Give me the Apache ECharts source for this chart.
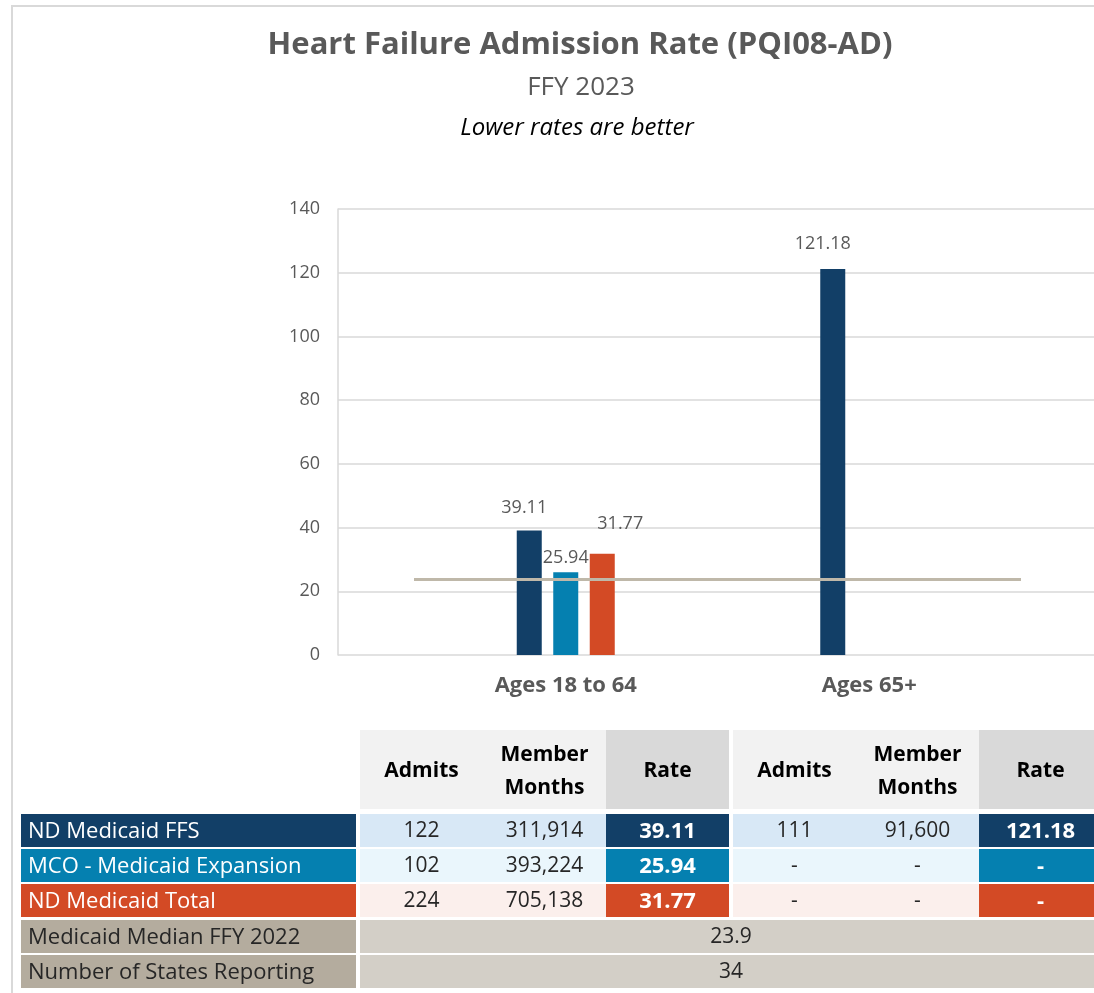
<!DOCTYPE html>
<html>
<head>
<meta charset="utf-8">
<script src="https://cdn.jsdelivr.net/npm/echarts@6/dist/echarts.min.js"></script>
<style>
  html, body { margin: 0; padding: 0; background: #fff; }
  #chart { width: 1094px; height: 993px; }
</style>
</head>
<body>
<div id="chart"></div>
<script>
// chart values
var ageGroups = ['Ages 18 to 64', 'Ages 65+'];
var ffsRate = [39.11, 121.18];
var mcoRate = [25.94, null];
var totalRate = [31.77, null];
var medianRate = 23.9;
var statesReporting = 34;
var yTicks = [0, 20, 40, 60, 80, 100, 120, 140];

// table values
var rowNames = ['ND Medicaid FFS', 'MCO - Medicaid Expansion', 'ND Medicaid Total'];
var admits1864 = [122, 102, 224];
var months1864 = [311914, 393224, 705138];
var admits65 = [111, null, null];
var months65 = [91600, null, null];

var navy = '#123f67', teal = '#0580b0', orange = '#d34a25', tan = '#b4ac9e';
var font = '"Open Sans", "Noto Sans", sans-serif';

var myChart = echarts.init(document.getElementById('chart'));

// label nudges so data labels sit where the original put them
var nudge = {
    ffs: [[-5, -9], [-10, -11]],
    mco: [[0, 0], [0, 0]],
    total: [[18, -16], [0, 0]]
};
function barData(vals, key) {
    return vals.map(function (v, i) {
        return { value: v, label: { offset: nudge[key][i] } };
    });
}

// ---- table drawn with graphic elements ----
function fmt(v) { return v == null ? '-' : v.toLocaleString('en-US'); }
function fmtRate(v) { return v == null ? '-' : v.toFixed(2); }

var g = [];
function rect(x, y, w, h, fill) {
    g.push({ type: 'rect', shape: { x: x, y: y, width: w, height: h }, style: { fill: fill }, silent: true });
}
function text(x, y, str, opt) {
    opt = opt || {};
    g.push({
        type: 'text', x: x, y: y, silent: true,
        style: {
            text: str, fontFamily: font, fontSize: opt.size || 21,
            fontWeight: opt.bold ? 'bold' : 'normal',
            fill: opt.color || '#262626', align: opt.align || 'center',
            verticalAlign: 'middle', lineHeight: opt.lh || 26
        }
    });
}

// frame
g.push({ type: 'line', shape: { x1: 11, y1: 6, x2: 1094, y2: 6 }, style: { stroke: '#d9d9d9', lineWidth: 2 }, silent: true });
g.push({ type: 'line', shape: { x1: 12, y1: 6, x2: 12, y2: 993 }, style: { stroke: '#d9d9d9', lineWidth: 2 }, silent: true });

var groups = [360, 733];
var colW = 123;
var headTop = 730, headH = 79;
groups.forEach(function (gx) {
    rect(gx, headTop, colW * 2, headH, '#f2f2f2');
    rect(gx + colW * 2, headTop, colW, headH, '#d9d9d9');
    text(gx + colW / 2, headTop + headH / 2 + 2, 'Admits', { bold: true, size: 21, color: '#000' });
    text(gx + colW * 1.5, headTop + headH / 2 + 2, 'Member\nMonths', { bold: true, size: 21, color: '#000', lh: 33 });
    text(gx + colW * 2.5, headTop + headH / 2 + 2, 'Rate', { bold: true, size: 21, color: '#000' });
});

var rowTops = [814, 849, 884, 920, 955];
var rowH = 33;
var rowColors = [navy, teal, orange];
var rowLight = ['#d8e8f6', '#eaf6fc', '#fbefec'];
var rates = [ffsRate, mcoRate, totalRate];
rowNames.forEach(function (name, i) {
    var y = rowTops[i], cy = y + rowH / 2 + 1;
    rect(21, y, 335, rowH, rowColors[i]);
    text(28, cy, name, { color: '#fff', align: 'left', size: 22 });
    // 18 to 64
    rect(groups[0], y, colW * 2, rowH, rowLight[i]);
    rect(groups[0] + colW * 2, y, colW, rowH, rowColors[i]);
    text(groups[0] + colW / 2, cy, fmt(admits1864[i]));
    text(groups[0] + colW * 1.5, cy, fmt(months1864[i]));
    text(groups[0] + colW * 2.5, cy, fmtRate(rates[i][0]), { bold: true, color: '#fff', size: 22 });
    // 65+
    rect(groups[1], y, colW * 2, rowH, rowLight[i]);
    rect(groups[1] + colW * 2, y, 1094 - groups[1] - colW * 2, rowH, rowColors[i]);
    text(groups[1] + colW / 2, cy, fmt(admits65[i]));
    text(groups[1] + colW * 1.5, cy, fmt(months65[i]));
    text(groups[1] + colW * 2.5, cy, fmtRate(rates[i][1]), { bold: true, color: '#fff', size: 22 });
});
[['Medicaid Median FFY 2022', medianRate], ['Number of States Reporting', statesReporting]].forEach(function (r, k) {
    var y = rowTops[3 + k], cy = y + rowH / 2 + 1;
    rect(21, y, 335, rowH, tan);
    text(28, cy, r[0], { align: 'left', size: 22 });
    rect(360, y, 1094 - 360, rowH, '#d3cfc7');
    text(731, cy, String(r[1]));
});

var barLabel = {
    show: true, position: 'top', distance: 5,
    color: '#595959', fontSize: 18, fontFamily: font
};

var option = {
    animation: false,
    textStyle: { fontFamily: font },
    title: [
        { text: 'Heart Failure Admission Rate (PQI08-AD)', left: 575, textAlign: 'center', top: 25,
          textStyle: { fontSize: 31, fontWeight: 'bold', color: '#595959', fontFamily: font } },
        { text: 'FFY 2023', left: 576, textAlign: 'center', top: 70,
          textStyle: { fontSize: 26, fontWeight: 'normal', color: '#595959', fontFamily: font } },
        { text: 'Lower rates are better', left: 572, textAlign: 'center', top: 111,
          textStyle: { fontSize: 24, fontWeight: 'normal', fontStyle: 'italic', color: '#000', fontFamily: font } }
    ],
    grid: [
        { left: 338, right: 0, top: 209, bottom: 338 },
        { left: 414, right: 73, top: 209, bottom: 338 }
    ],
    xAxis: [
        { gridIndex: 0, type: 'value', show: false },
        { gridIndex: 1, type: 'category', data: ageGroups,
          axisLine: { show: false }, axisTick: { show: false },
          axisLabel: { margin: 20, fontSize: 22, fontWeight: 'bold', color: '#595959', fontFamily: font } }
    ],
    yAxis: [
        { gridIndex: 0, type: 'value', min: yTicks[0], max: yTicks[yTicks.length - 1], interval: 20,
          axisLine: { show: true, lineStyle: { color: '#d9d9d9', width: 1.5 } },
          axisTick: { show: false },
          splitLine: { lineStyle: { color: '#d9d9d9', width: 1.5 } },
          axisLabel: { margin: 18, fontSize: 18, color: '#595959', fontFamily: font } },
        { gridIndex: 1, type: 'value', min: yTicks[0], max: yTicks[yTicks.length - 1], interval: 20, show: false }
    ],
    series: [
        { name: 'ND Medicaid FFS', type: 'bar', xAxisIndex: 1, yAxisIndex: 1,
          data: barData(ffsRate, 'ffs'), barWidth: 25, barGap: '46%',
          itemStyle: { color: navy }, label: barLabel,
          markLine: {
              silent: true, symbol: 'none', label: { show: false },
              lineStyle: { color: '#bfb8a9', width: 3, type: 'solid' },
              data: [{ yAxis: medianRate }]
          } },
        { name: 'MCO - Medicaid Expansion', type: 'bar', xAxisIndex: 1, yAxisIndex: 1,
          data: barData(mcoRate, 'mco'), barWidth: 25, barGap: '46%',
          itemStyle: { color: teal }, label: barLabel },
        { name: 'ND Medicaid Total', type: 'bar', xAxisIndex: 1, yAxisIndex: 1,
          data: barData(totalRate, 'total'), barWidth: 25, barGap: '46%',
          itemStyle: { color: orange }, label: barLabel }
    ],
    graphic: g
};
myChart.setOption(option);
</script>
</body>
</html>
